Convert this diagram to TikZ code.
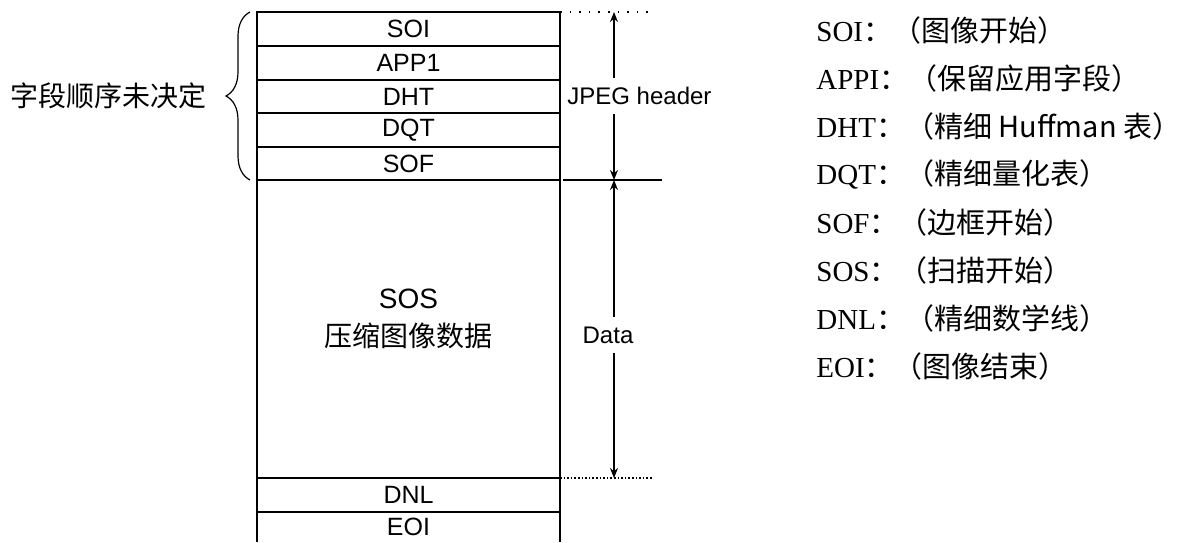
\documentclass[tikz,border=0pt]{standalone}
\usepackage{fontspec}
\setmainfont{Liberation Serif}
\newfontfamily\arialfont{Liberation Sans}
\newfontfamily\cjk{Noto Sans CJK SC}
\usetikzlibrary{arrows.meta,positioning,calc,decorations.pathreplacing}
\tikzset{
  >={Stealth[length=5pt,width=4pt]},
  seg/.style={draw,line width=0.7pt,minimum width=151.5pt,minimum height=#1,
    inner sep=0pt,outer sep=0pt,font=\arialfont\fontsize{12.5}{14}\selectfont},
  seg/.default=17pt,
  guide/.style={line width=0.7pt},
  dim/.style={->,line width=0.7pt},
  tag/.style={font=\arialfont\fontsize{12}{14}\selectfont,inner xsep=1pt,inner ysep=4.5pt},
  legend/.style={anchor=west,inner sep=0pt,font=\fontsize{14.5}{16}\selectfont},
}
\begin{document}
\begin{tikzpicture}[x=0.5pt,y=-0.5pt]
  \useasboundingbox (0,0) rectangle (1197,542);
  % segments of the file
  \node[seg,anchor=north west] (soi) at (257,12) {SOI};
  \node[seg,below=0pt of soi] (app) {APP1};
  \node[seg=16.5pt,below=0pt of app] (dht) {DHT};
  \node[seg,below=0pt of dht] (dqt) {DQT};
  \node[seg=16.5pt,below=0pt of dqt] (sof) {SOF};
  \node[seg=149pt,below=0pt of sof] (sos) {};
  \node[seg,below=0pt of sos] (dnl) {DNL};
  \node[seg=15pt,draw=none,below=0pt of dnl] (eoi) {EOI};
  \draw[guide] (eoi.south west) -- (eoi.north west) (eoi.north east) -- (eoi.south east);
  \node[font=\cjk\fontsize{14}{19}\selectfont,align=center] (sostxt) at ([yshift=5pt]sos.center) {{\arialfont SOS}\\压缩图像数据};
  % brace on the left
  \draw[decorate,decoration={brace,amplitude=12pt},line width=0.6pt]
    ([xshift=-3.5pt]sof.south west) -- node[left=18pt,font=\cjk\fontsize{14}{16}\selectfont] (order) {字段顺序未决定} ([xshift=-3.5pt]soi.north west);
  % extension lines
  \coordinate (axis) at (614,0);
  \coordinate (topend) at (655,12);
  \coordinate (midend) at (662,180);
  \coordinate (botend) at (652,478);
  \draw[loosely dotted,line width=0.8pt] (soi.north east) -- (topend);
  \draw[guide] ([xshift=1.5pt]sof.south east) -- (midend);
  \draw[densely dotted,line width=0.8pt] (dnl.north east) -- (botend);
  % dimensions
  \node[tag,anchor=west] (hdr) at (565,96) {JPEG header};
  \node[tag] (dat) at (608,335) {Data};
  \draw[dim] (hdr.north -| axis) -- (axis |- soi.north);
  \draw[dim] (hdr.south -| axis) -- (axis |- sof.south);
  \draw[dim] (dat.north -| axis) -- (axis |- sos.north);
  \draw[dim] (dat.south -| axis) -- (axis |- sos.south);
  % legend
  \foreach \k/\d [count=\i] in {SOI/图像开始,APPI/保留应用字段,DHT/精细 Huffman 表,DQT/精细量化表,
      SOF/边框开始,SOS/扫描开始,DNL/精细数学线,EOI/图像结束}
    \node[legend] (lg\i) at (816,{30+48*(\i-1)}) {\k{\cjk：（\d）}};
\end{tikzpicture}
\end{document}
